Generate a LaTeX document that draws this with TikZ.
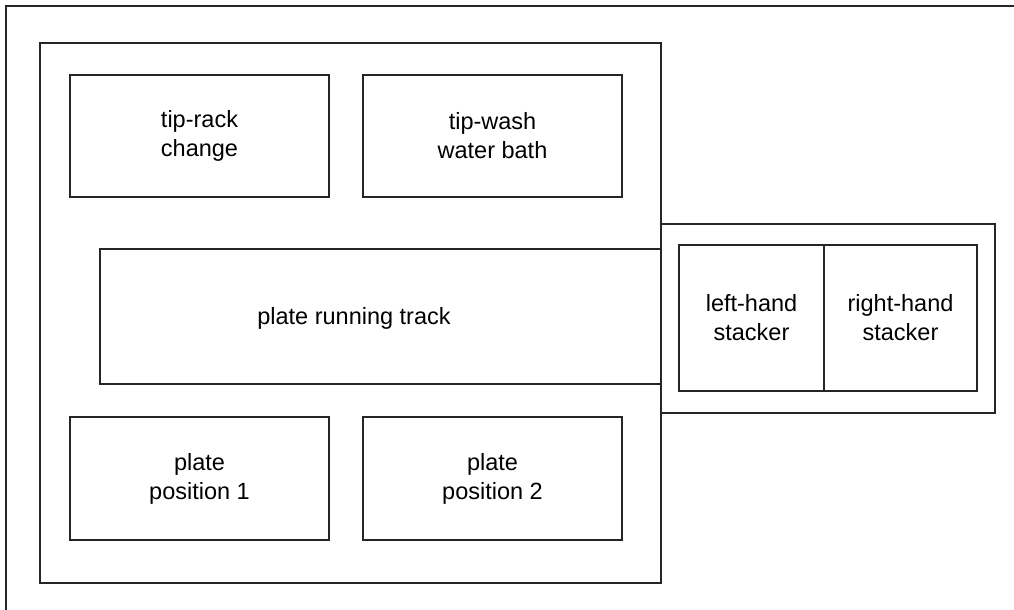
\documentclass[tikz,border=0pt]{standalone}
\usepackage{fontspec}
\setmainfont{Liberation Sans}
\begin{document}
\begin{tikzpicture}[x=1pt,y=-1pt,
  box/.style={draw=black!85, line width=1.1pt, fill=white, rectangle, inner sep=0pt, outer sep=0pt, anchor=north west},
  lbl/.style={align=center, font=\fontsize{23.5}{29}\selectfont, inner sep=0pt}
]
\useasboundingbox (0,0) rectangle (1014,610);
\coordinate (fa) at (6,620);
\coordinate (fb) at (6,6);
\coordinate (fc) at (1024,6);
\draw[line width=1.1pt, black!85] (fa) -- (fb) -- (fc);
% main area
\node[box, minimum width=621, minimum height=540] (main) at (40,43) {};
\node[box, minimum width=259, minimum height=122] (tiprack) at (70,75) {};
\node[lbl] (tiprackl) at (tiprack.center) {tip-rack\\change};
\node[box, minimum width=259, minimum height=122] (tipwash) at (363,75) {};
\node[lbl] (tipwashl) at (tipwash.center) {tip-wash\\water bath};
\node[box, minimum width=561, minimum height=135] (track) at (100,249) {};
\node[lbl] (trackl) at (354,318) {plate running track};
\node[box, minimum width=259, minimum height=123] (pos1) at (70,417) {};
\node[lbl] (pos1l) at (pos1.center) {plate\\position 1};
\node[box, minimum width=259, minimum height=123] (pos2) at (363,417) {};
\node[lbl] (pos2l) at (pos2.center) {plate\\position 2};
% stacker
\node[box, minimum width=334, minimum height=189] (stack) at (661,224) {};
\node[box, minimum width=145, minimum height=146] (lstack) at (679,245) {};
\node[box, minimum width=153, minimum height=146] (rstack) at (824,245) {};
\node[lbl] (lstackl) at (lstack.center) {left-hand\\stacker};
\node[lbl] (rstackl) at (rstack.center) {right-hand\\stacker};
\end{tikzpicture}
\end{document}
